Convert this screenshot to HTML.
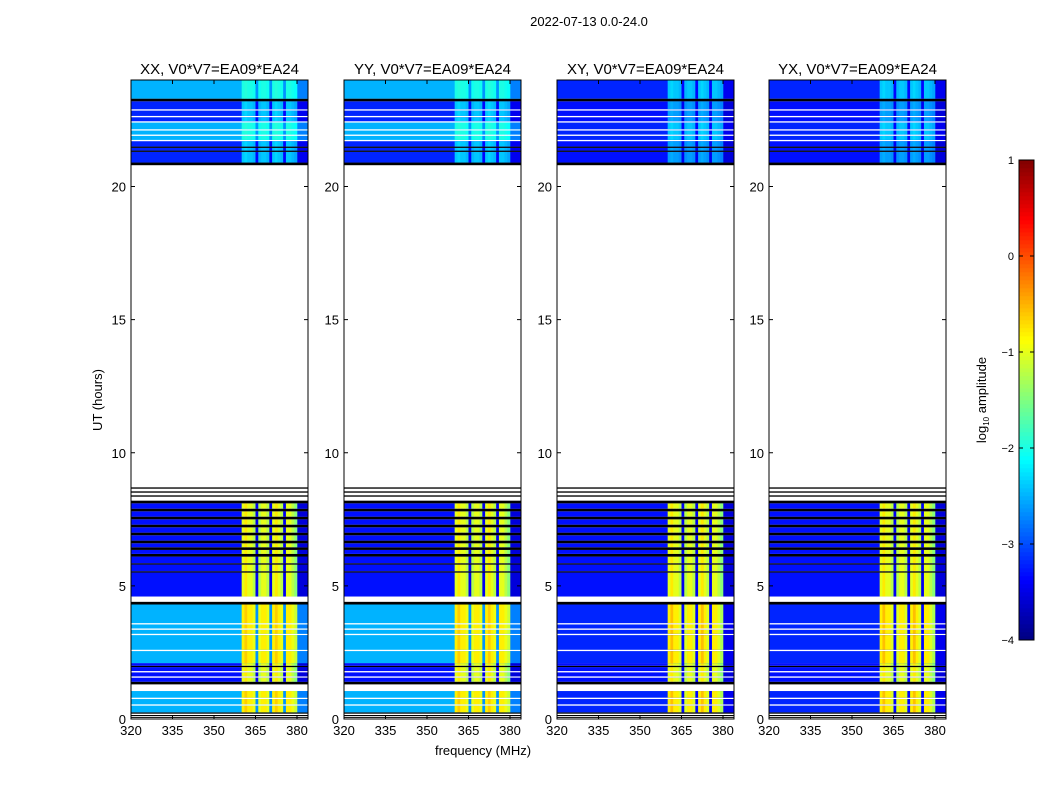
<!DOCTYPE html>
<html><head><meta charset="utf-8">
<style>
body{margin:0;background:#fff;}
svg{display:block;font-family:"Liberation Sans",sans-serif;}
</style></head>
<body>
<svg id="fig" width="1050" height="800" viewBox="0 0 1050 800">
<rect width="1050" height="800" fill="#fff"/>
<text x="589" y="26" font-size="13" text-anchor="middle">2022-07-13 0.0-24.0</text>
<text x="483" y="755" font-size="13" text-anchor="middle">frequency (MHz)</text>
<text transform="translate(102,400) rotate(-90)" font-size="13" text-anchor="middle">UT (hours)</text>
<g id="panels"></g>
<g id="cbar"></g>
</svg>
<script>
// ---- data ----
const pols = ["XX","YY","XY","YX"];
const panelTitles = ["XX, V0*V7=EA09*EA24","YY, V0*V7=EA09*EA24","XY, V0*V7=EA09*EA24","YX, V0*V7=EA09*EA24"];
const xTicks = [320,335,350,365,380];
const yTicks = [0,5,10,15,20];
const cbTicks = [1,0,-1,-2,-3,-4];
const segStart = [0,0.05,0.08,0.12,0.15,0.2,0.25,0.5,0.55,0.75,0.8,1.05,1.3,1.4,1.55,1.6,1.75,1.8,1.95,2.0,2.1,2.55,2.6,3.15,3.2,3.35,3.4,3.55,3.6,4.3,4.4,4.6,5.5,5.55,5.8,5.85,6.1,6.2,6.35,6.45,6.6,6.7,6.9,7.0,7.2,7.3,7.5,7.6,7.8,7.9,8.1,8.2,8.35,8.4,8.5,8.55,8.65,8.7,20.8,20.9,21.3,21.35,21.45,21.5,21.7,21.75,21.9,21.95,22.1,22.15,22.4,22.45,22.6,22.65,22.85,22.9,23.2,23.3];
const segEnd   = [0.05,0.08,0.12,0.15,0.2,0.25,0.5,0.55,0.75,0.8,1.05,1.3,1.4,1.55,1.6,1.75,1.8,1.95,2.0,2.1,2.55,2.6,3.15,3.2,3.35,3.4,3.55,3.6,4.3,4.4,4.6,5.5,5.55,5.8,5.85,6.1,6.2,6.35,6.45,6.6,6.7,6.9,7.0,7.2,7.3,7.5,7.6,7.8,7.9,8.1,8.2,8.35,8.4,8.5,8.55,8.65,8.7,20.8,20.9,21.3,21.35,21.45,21.5,21.7,21.75,21.9,21.95,22.1,22.15,22.4,22.45,22.6,22.65,22.85,22.9,23.2,23.3,24];
const segKind  = ["w","k","w","k","w","k","c","w","c","w","c","w","k","b","w","b","w","b","k","b","c","w","c","w","c","w","c","w","c","k","w","b","k","b","k","b","k","b","k","b","k","b","k","b","k","b","k","b","k","b","k","w","k","w","k","w","k","w","k","ub","k","ub","k","ub","w","u","w","u","w","u","w","ub","w","ub","w","ub","k","u"];
const kinds = ["c","b","u","ub"];
const bgPar   = [-2.5,-3.3,-2.5,-3.2];
const bgCross = [-3.2,-3.3,-3.2,-3.3];
const rfiPar   = [-0.8,-1.0,-2.0,-2.4];
const rfiCross = [-0.8,-1.0,-2.4,-2.6];
const rfiFreq = [360,361,362,363,364,365,366,367,368,369,370,371,372,373,374,375,376,377,378,379];
const rfiStr  = [1.0,1.1,1.0,1.0,0.9,0.0,0.9,1.0,1.0,0.9,0.0,1.0,1.1,1.0,0.9,0.0,1.0,1.0,0.9,0.8];

const panelX = [131,344,557,769], pw = 177, ptop = 80, pbot = 719;
const fx = (f,i) => panelX[i] + (f-320)*(41.5/15);
const ty = h => pbot - h*(pbot-ptop)/24;
function jet(v){
  let x = Math.max(0,Math.min(1,(v+4)/5));
  const c = t => Math.round(255*Math.max(0,Math.min(1,t)));
  return `rgb(${c(1.5-Math.abs(4*x-3))},${c(1.5-Math.abs(4*x-2))},${c(1.5-Math.abs(4*x-1))})`;
}
const NS="http://www.w3.org/2000/svg";
function mk(tag,attrs,parent){const e=document.createElementNS(NS,tag);for(const k in attrs)e.setAttribute(k,attrs[k]);parent.appendChild(e);return e;}
const panels=document.getElementById('panels');
pols.forEach((p,i)=>{
  const g=mk('g',{},panels);
  
  
  const cross = (p==="XY"||p==="YX");
  const clip=mk('clipPath',{id:'cl'+i},g);
  mk('rect',{x:panelX[i],y:ptop,width:pw,height:pbot-ptop},clip);
  const hm=mk('g',{'clip-path':`url(#cl${i})`},g);
  for(let s=0;s<segStart.length;s++){
    const k=segKind[s]; if(k==='w') continue;
    const y0=ty(segEnd[s]), y1=ty(segStart[s]);
    if(k==='k'){
      const r=mk('rect',{x:panelX[i],y:y0,width:pw,height:Math.max(1,y1-y0),fill:'#000'},hm);
      
      
      continue;
    }
    const ki=kinds.indexOf(k);
    const bg = cross?bgCross[ki]:bgPar[ki];
    const rl = cross?rfiCross[ki]:rfiPar[ki];
    const r=mk('rect',{x:panelX[i],y:y0,width:pw,height:y1-y0,fill:jet(bg)},hm);
    
    
    mk('rect',{x:fx(380,i),y:y0,width:pw-(fx(380,i)-panelX[i]),height:y1-y0,fill:jet(bg-0.25)},hm);
    rfiFreq.forEach((f,j)=>{
      const v = rfiStr[j]===0 ? bg-0.15 : bg + (rl-bg)*rfiStr[j];
      const c=mk('rect',{x:fx(f,i),y:y0,width:fx(f+1,i)-fx(f,i)+0.3,height:y1-y0,fill:jet(v)},hm);
      
      
    });
  }
  mk('rect',{x:panelX[i],y:ptop,width:pw,height:pbot-ptop,fill:'none',stroke:'#000','stroke-width':1},g);
  const t=mk('text',{x:panelX[i]+pw/2,y:74,'font-size':15,'text-anchor':'middle'},g);
  t.textContent=panelTitles[i];
  
  
  xTicks.forEach(v=>{
    const x=fx(v,i);
    mk('line',{x1:x,y1:pbot,x2:x,y2:pbot-4,stroke:'#000'},g);
    mk('line',{x1:x,y1:ptop,x2:x,y2:ptop+4,stroke:'#000'},g);
    const l=mk('text',{x:x,y:pbot+16,'font-size':13,'text-anchor':'middle'},g);
    l.textContent=v;
    
    
  });
  yTicks.forEach(v=>{
    const y=ty(v);
    mk('line',{x1:panelX[i],y1:y,x2:panelX[i]+4,y2:y,stroke:'#000'},g);
    mk('line',{x1:panelX[i]+pw,y1:y,x2:panelX[i]+pw-4,y2:y,stroke:'#000'},g);
    const l=mk('text',{x:panelX[i]-5,y:y+5,'font-size':13,'text-anchor':'end'},g);
    l.textContent=v;
    
    
  });
});
const cb=document.getElementById('cbar');
const cbx=1019,cbw=15,cbt=160,cbb=640;
const cy=v=>cbb-(v+4)*(cbb-cbt)/5;
for(let k=0;k<120;k++){
  const v=-4+5*(k+0.5)/120;
  mk('rect',{x:cbx,y:cy(v)-(cbb-cbt)/240-0.3,width:cbw,height:(cbb-cbt)/120+0.6,fill:jet(v)},cb);
}
mk('rect',{x:cbx,y:cbt,width:cbw,height:cbb-cbt,fill:'none',stroke:'#000'},cb);
cbTicks.forEach(v=>{
  const y=cy(v);
  mk('line',{x1:cbx+cbw,y1:y,x2:cbx+cbw-4,y2:y,stroke:'#000'},cb);
  mk('line',{x1:cbx,y1:y,x2:cbx+4,y2:y,stroke:'#000'},cb);
  const l=mk('text',{x:cbx-5,y:y+4,'font-size':11,'text-anchor':'end'},cb);
  l.textContent=v<0?'\u2212'+(-v):String(v);
  
  
});
const cl=mk('text',{transform:'translate(986,400) rotate(-90)','font-size':13,'text-anchor':'middle'},cb);
cl.innerHTML='log<tspan font-size="8" dy="3">10</tspan><tspan dy="-3"> amplitude</tspan>';


</script>
</body></html>
